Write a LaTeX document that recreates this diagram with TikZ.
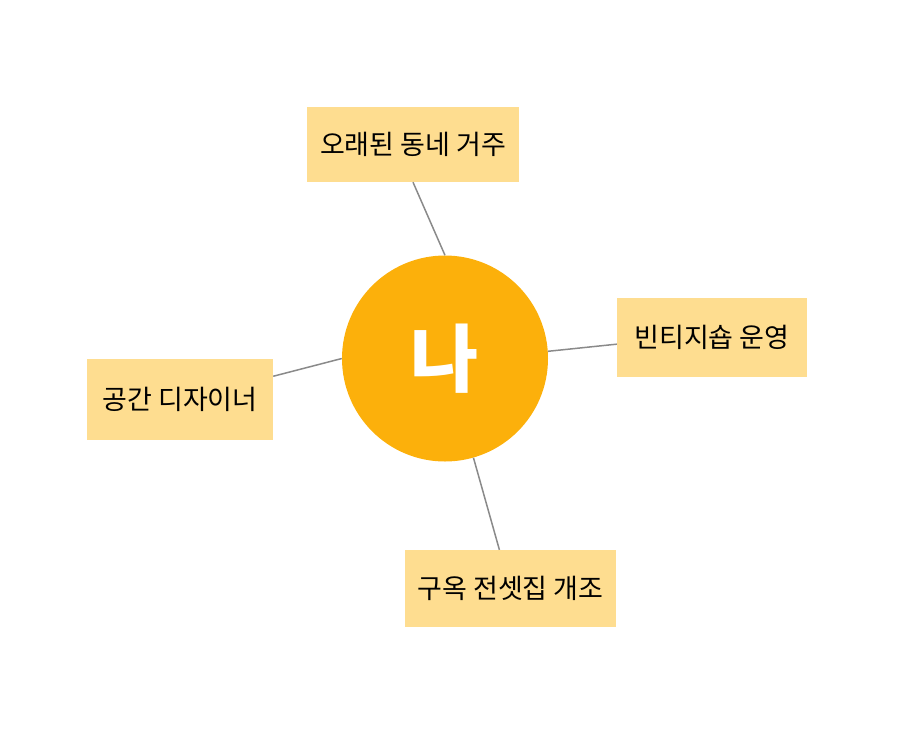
\documentclass[tikz,border=0pt]{standalone}
\usepackage{fontspec}
\newfontfamily\kor{Noto Sans CJK KR}
\usepackage{xcolor}
\usepackage{tikz}
\definecolor{meorange}{HTML}{FCB00B}
\definecolor{tagfill}{HTML}{FEDD90}
\definecolor{linkgray}{HTML}{8A8A8A}

\begin{document}
\begin{tikzpicture}[
  x=1pt, y=1pt,
  me/.style={circle, fill=meorange, minimum size=206pt, inner sep=0pt, text=white, font=\kor\bfseries\fontsize{74}{80}\selectfont},
  tag/.style={rectangle, fill=tagfill, inner sep=0pt, align=center, font=\kor\fontsize{27}{32}\selectfont},
  link/.style={draw=linkgray, line width=1.5pt}
]
\useasboundingbox (0,0) rectangle (924,-732);

% centre
\node[me] (na) at (445,-358.5) {나};

% surrounding tags
\node[tag, minimum width=212pt, minimum height=75pt] (old) at (413,-144.5) {오래된 동네 거주};
\node[tag, minimum width=190pt, minimum height=79pt] (shop) at (712,-337.5) {빈티지숍 운영};
\node[tag, minimum width=186pt, minimum height=81pt] (design) at (180,-399.5) {공간 디자이너};
\node[tag, minimum width=211pt, minimum height=77pt] (house) at (510.5,-588.5) {구옥 전셋집 개조};

\draw[link] (old.south) -- (na.90.5);
\draw[link] (shop.184.5) -- (na.4.7);
\draw[link] (design.14) -- (na.180);
\draw[link] (house.106.6) -- (na.286);
\end{tikzpicture}
\end{document}
